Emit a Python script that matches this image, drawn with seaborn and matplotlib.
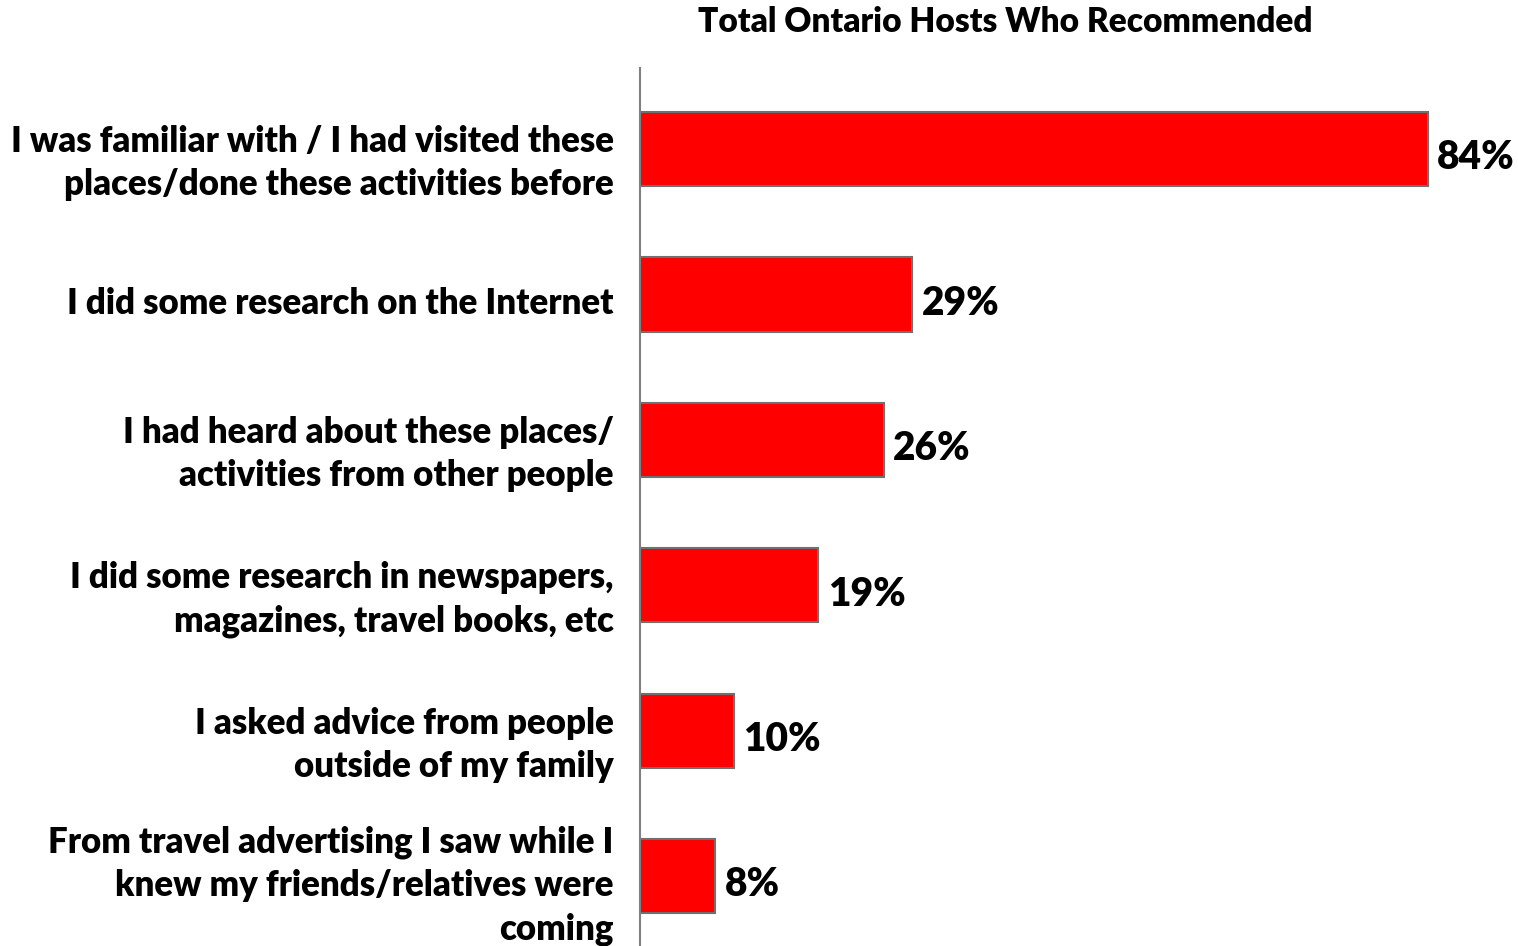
import matplotlib
matplotlib.use("Agg")
import matplotlib.pyplot as plt
import matplotlib.transforms as mtransforms
import seaborn as sns
import pandas as pd

categories = [
    "I was familiar with / I had visited these\nplaces/done these activities before",
    "I did some research on the Internet",
    "I had heard about these places/\nactivities from other people",
    "I did some research in newspapers,\nmagazines, travel books, etc",
    "I asked advice from people\noutside of my family",
    "From travel advertising I saw while I\nknew my friends/relatives were\ncoming",
]
values = [84, 29, 26, 19, 10, 8]
title = "Total Ontario Hosts Who Recommended"

sns.set_theme(style="white")
plt.rcParams["font.family"] = ["Lato", "DejaVu Sans"]

df = pd.DataFrame({"cat": categories, "val": values})

fig = plt.figure(figsize=(15.18, 9.46), dpi=100)
ax = fig.add_axes([640 / 1518, 0, 1 - 640 / 1518, 1 - 68 / 946])

sns.barplot(data=df, x="val", y="cat", orient="h", color="#ff0000",
            saturation=1, width=0.51, edgecolor="#707070", linewidth=1.5, ax=ax)

ax.set_xlim(0, 93.6)
ax.set_ylim(5.48, -0.557)
ax.set_xlabel("")
ax.set_ylabel("")
ax.set_xticks([])
for s in ["top", "right", "bottom"]:
    ax.spines[s].set_visible(False)
ax.spines["left"].set_color("#808080")
ax.spines["left"].set_linewidth(1.5)

ax.tick_params(axis="y", length=0, pad=19)
labels = ax.get_yticklabels()
for k, lbl in enumerate(labels):
    dy = 6 if k < len(labels) - 1 else 1
    shift = mtransforms.ScaledTranslation(0, -dy / 100, fig.dpi_scale_trans)
    lbl.set_fontsize(25)
    lbl.set_fontweight("heavy")
    lbl.set_color("black")
    lbl.set_linespacing(1.38)
    lbl.set_transform(lbl.get_transform() + shift)

for i, v in enumerate(values):
    ax.text(v + 1.0, i + 0.06, f"{v}%", va="center", ha="left",
            fontsize=28, fontweight="heavy", color="black")

fig.text(1005 / 1518, 1 - 22 / 946, title, ha="center", va="center",
         fontsize=24, fontweight="heavy", color="black")

fig.savefig("out.png", dpi=100)
